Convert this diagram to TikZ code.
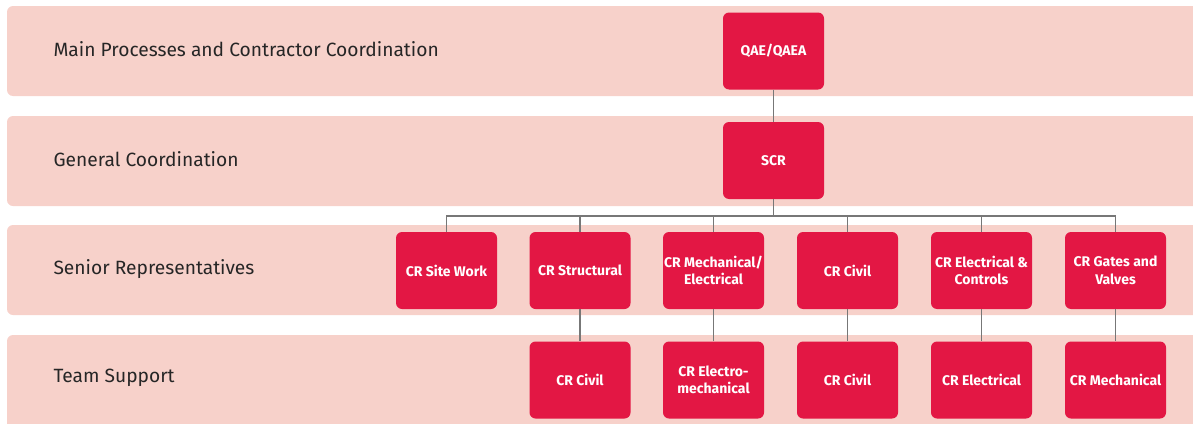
\documentclass[tikz,border=0pt]{standalone}
\usepackage{fontspec}
\setmainfont{Fira Sans}
\definecolor{bandpink}{HTML}{F7D1CA}
\definecolor{crred}{HTML}{E31744}
\definecolor{linegray}{HTML}{777777}
\tikzset{
  band/.style={fill=bandpink, rounded corners=6pt},
  rowlabel/.style={anchor=west, font=\fontsize{19.2}{22}\selectfont, text=black!85},
  crbox/.style={rectangle, rounded corners=6pt, fill=crred, text=white,
    minimum width=101pt, minimum height=77pt, inner sep=1pt, align=center,
    font=\fontsize{14}{17.5}\selectfont\bfseries},
  link/.style={draw=linegray, line width=1.3pt}
}
\begin{document}
\begin{tikzpicture}[x=1pt, y=-1pt]
  \clip (0,0) rectangle (1193,423);
  % Bands
  \fill[band] (7,6) rectangle (1215,96);
  \fill[band] (7,116) rectangle (1215,206);
  \fill[band] (7,225) rectangle (1215,315);
  \fill[band] (7,335) rectangle (1215,440);

  % Row labels
  \node[rowlabel] (lbl1) at (50,49) {Main Processes and Contractor Coordination};
  \node[rowlabel] (lbl2) at (50,159) {General Coordination};
  \node[rowlabel] (lbl3) at (50,269) {Senior Representatives};
  \node[rowlabel] (lbl4) at (50,378) {Team Support};

  % Top levels
  \node[crbox] (qae) at (773.5,51) {QAE/QAEA};
  \node[crbox] (scr) at (773.5,160.5) {SCR};

  % Senior representatives
  \node[crbox] (site)  at (446.5,270.5) {CR Site Work};
  \node[crbox] (struc) at (580,270.5) {CR Structural};
  \node[crbox] (mech)  at (713.5,270.5) {CR Mechanical/\\Electrical};
  \node[crbox] (civ)   at (847.5,270.5) {CR Civil};
  \node[crbox] (elec)  at (981.5,270.5) {CR Electrical \&\\Controls};
  \node[crbox] (gates) at (1115.5,270.5) {CR Gates and\\Valves};

  % Team support
  \node[crbox] (civa)  at (580,380) {CR Civil};
  \node[crbox] (emech) at (713.5,380) {CR Electro-\\mechanical};
  \node[crbox] (civb)  at (847.5,380) {CR Civil};
  \node[crbox] (eleca) at (981.5,380) {CR Electrical};
  \node[crbox] (mecha) at (1115.5,380) {CR Mechanical};

  % Connectors
  \coordinate (bus) at (773.5,216);
  \draw[link] (qae) -- (scr);
  \draw[link] (scr) -- (bus);
  \foreach \n in {site,struc,mech,civ,elec,gates}
    \draw[link] (bus) -| (\n.north);
  \draw[link] (struc) -- (civa);
  \draw[link] (mech) -- (emech);
  \draw[link] (civ) -- (civb);
  \draw[link] (elec) -- (eleca);
  \draw[link] (gates) -- (mecha);
\end{tikzpicture}
\end{document}
